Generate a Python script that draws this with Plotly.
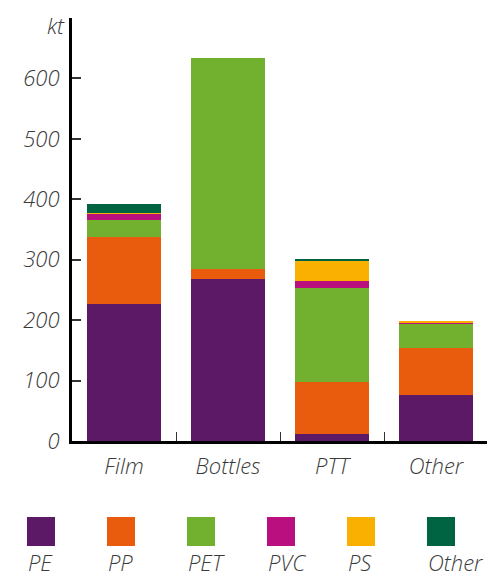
import plotly.graph_objects as go

categories = ["Film", "Bottles", "PTT", "Other"]
series_names = ["PE", "PP", "PET", "PVC", "PS", "Other"]
pe = [226, 268, 12, 76]
pp = [111, 16, 86, 78]
pet = [28, 349, 155, 40]
pvc = [11, 0, 11, 1]
ps = [2, 0, 34, 4]
other = [15, 0, 2, 0]
values = [pe, pp, pet, pvc, ps, other]
colors = ["#5C1A66", "#E95C0E", "#72B030", "#BA0F7E", "#FAB000", "#006443"]
y_tickvals = [0, 100, 200, 300, 400, 500, 600, 700]
y_ticktext = ["0", "100", "200", "300", "400", "500", "600", ""]
unit_label = "kt"

OFF = 8  # page body margin offset
W, H = 495 - OFF, 576 - OFF
ML, MR, MT, MB = 72 - OFF, 7, 18 - OFF, 135
PW, PH = W - ML - MR, H - MT - MB

def px_x(x):
    return (x - OFF - ML) / PW

def px_y(y):
    return (H - MB - (y - OFF)) / PH

FONT = "Open Sans"
TXT = "#3a3a3a"
tf = dict(family=FONT, size=22, color=TXT, style="italic", weight=300)

fig = go.Figure()
for name, vals, col in zip(series_names, values, colors):
    fig.add_trace(go.Bar(x=categories, y=vals, name=name, marker=dict(color=col, line=dict(width=0)),
                         showlegend=False))

shapes = []
annotations = []
for i, (name, col) in enumerate(zip(series_names, colors)):
    x0 = 27 + 80 * i
    shapes.append(dict(type="rect", xref="paper", yref="paper",
                       x0=px_x(x0), x1=px_x(x0 + 28), y0=px_y(546), y1=px_y(517),
                       fillcolor=col, line=dict(width=0)))
    annotations.append(dict(xref="paper", yref="paper", x=px_x(x0 - 1), y=px_y(562),
                            text=name, showarrow=False, xanchor="left", yanchor="middle",
                            font=tf))

annotations.append(dict(xref="paper", yref="paper", x=px_x(67), y=px_y(OFF),
                        text=unit_label, showarrow=False, xanchor="right", yanchor="top",
                        font=tf))

fig.update_layout(
    width=W, height=H,
    barmode="stack", bargap=0.28,
    margin=dict(l=ML, r=MR, t=MT, b=MB, autoexpand=False),
    plot_bgcolor="white", paper_bgcolor="white",
    font=tf,
    shapes=shapes, annotations=annotations,
    xaxis=dict(range=[-0.5, 3.5], showline=True, linecolor="black", linewidth=3,
               ticks="inside", tickson="boundaries", ticklen=9, tickwidth=1.2, tickcolor="#333",
               showgrid=False, zeroline=False, ticklabelstandoff=4, tickfont=tf),
    yaxis=dict(range=[0, 700], tickvals=y_tickvals, ticktext=y_ticktext,
               showline=True, linecolor="black", linewidth=3,
               ticks="inside", ticklen=9, tickwidth=2, tickcolor="#333",
               showgrid=False, zeroline=False, ticklabelstandoff=5, tickfont=tf,
               ticklabeloverflow="allow"),
)

fig.write_html("out.html")
